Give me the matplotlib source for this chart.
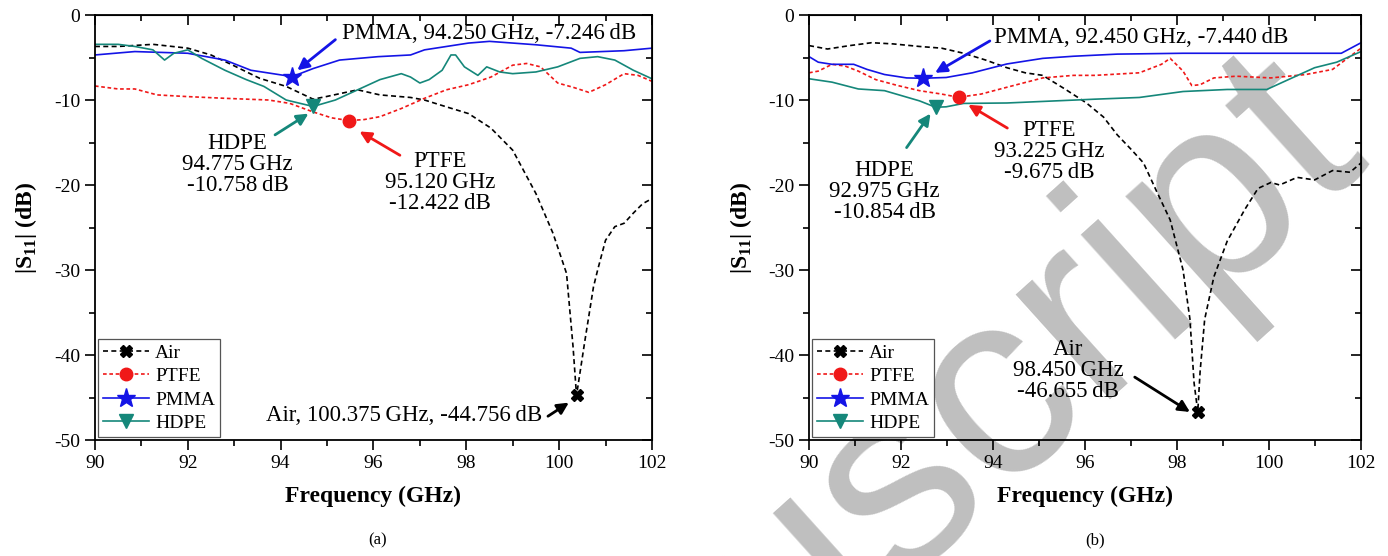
import matplotlib.pyplot as plt
from matplotlib.lines import Line2D
from matplotlib.ticker import MultipleLocator

plt.rcParams['font.family'] = ['Liberation Serif', 'DejaVu Serif']
plt.rcParams['mathtext.fontset'] = 'custom'
plt.rcParams['mathtext.rm'] = 'Liberation Serif'
plt.rcParams['mathtext.bf'] = 'Liberation Serif:bold'
plt.rcParams['axes.unicode_minus'] = False

# ---- panel (a) data ----
air_a_f = [90.0, 90.5, 91.25, 92.0, 92.5, 92.97, 93.55, 94.12, 94.7, 94.98, 95.66, 96.14, 96.8, 97.1,
           97.57, 98.05, 98.53, 99.0, 99.5, 99.87, 100.16, 100.3, 100.375, 100.55, 100.74, 100.83,
           101.0, 101.2, 101.4, 101.6, 101.8, 102.0]
air_a_db = [-3.7, -3.7, -3.45, -3.9, -4.7, -5.9, -7.45, -8.4, -9.9, -9.6, -8.8, -9.4, -9.7, -10.0,
            -10.8, -11.6, -13.3, -15.9, -21.0, -25.7, -30.4, -39.0, -44.76, -38.5, -32.0, -30.0,
            -26.5, -24.9, -24.5, -23.3, -22.2, -21.6]

ptfe_a_f = [90.0, 90.5, 90.86, 91.34, 92.0, 92.8, 93.74, 94.2, 94.7, 95.1, 95.47, 95.8, 96.14, 96.6,
            97.1, 97.57, 98.05, 98.53, 99.0, 99.3, 99.6, 99.97, 100.3, 100.64, 101.0, 101.4, 101.7, 102.0]
ptfe_a_db = [-8.35, -8.7, -8.7, -9.4, -9.6, -9.8, -10.0, -10.4, -11.4, -12.1, -12.42, -12.3, -11.96, -11.0,
             -9.8, -8.8, -8.2, -7.3, -5.9, -5.7, -6.1, -8.0, -8.5, -9.1, -8.2, -6.9, -7.1, -7.8]

pmma_a_f = [90.0, 90.86, 92.0, 92.8, 93.36, 94.25, 94.7, 95.27, 96.1, 96.8, 97.1, 98.05, 98.5, 99.5,
            100.26, 100.45, 101.4, 102.0]
pmma_a_db = [-4.7, -4.3, -4.5, -5.3, -6.5, -7.25, -6.3, -5.3, -4.9, -4.7, -4.1, -3.3, -3.1, -3.5,
             -3.9, -4.4, -4.2, -3.9]

hdpe_a_f = [90.0, 90.5, 90.86, 91.25, 91.5, 91.7, 92.0, 92.3, 92.8, 93.26, 93.64, 94.12, 94.7, 95.18,
            95.66, 96.14, 96.6, 96.8, 97.0, 97.2, 97.48, 97.67, 97.77, 97.96, 98.25, 98.44, 98.72, 99.0,
            99.5, 99.97, 100.45, 100.83, 101.2, 101.6, 102.0]
hdpe_a_db = [-3.45, -3.45, -3.7, -4.1, -5.3, -4.5, -4.1, -5.1, -6.5, -7.6, -8.4, -10.0, -10.76, -10.0,
             -8.8, -7.6, -6.9, -7.3, -8.0, -7.6, -6.5, -4.7, -4.7, -6.1, -7.1, -6.1, -6.7, -6.9,
             -6.7, -6.1, -5.1, -4.9, -5.3, -6.5, -7.5]

# minima markers (a): Air, PTFE, PMMA, HDPE
mins_a_f = [100.375, 95.47, 94.25, 94.7]
mins_a_db = [-44.756, -12.422, -7.246, -10.758]

# ---- panel (b) data ----
air_b_f = [90.0, 90.4, 90.88, 91.36, 91.83, 92.4, 92.88, 93.36, 93.84, 94.3, 94.7, 95.08, 95.56, 96.03,
           96.4, 96.7, 97.0, 97.27, 97.56, 97.85, 98.13, 98.28, 98.37, 98.45, 98.5, 98.6, 98.8, 99.09,
           99.47, 99.76, 100.04, 100.23, 100.61, 100.99, 101.38, 101.76, 102.0]
air_b_db = [-3.6, -4.0, -3.6, -3.26, -3.4, -3.7, -3.9, -4.5, -5.3, -6.2, -6.8, -7.1, -8.7, -10.35,
            -12.0, -14.1, -15.8, -17.4, -20.8, -24.1, -30.0, -35.8, -43.3, -46.66, -42.0, -35.8, -30.8, -26.6,
            -22.9, -20.4, -19.7, -20.0, -19.1, -19.4, -18.3, -18.5, -17.4]

ptfe_b_f = [90.0, 90.2, 90.5, 90.78, 91.07, 91.45, 91.93, 92.4, 92.88, 93.25, 93.74, 94.3, 95.08, 95.75,
            96.22, 97.18, 97.66, 97.85, 98.13, 98.32, 98.5, 98.8, 99.28, 100.04, 100.8, 101.38, 102.0]
ptfe_b_db = [-6.8, -6.6, -5.8, -6.0, -6.6, -7.6, -8.3, -8.9, -9.3, -9.68, -9.3, -8.5, -7.4, -7.1,
             -7.1, -6.8, -5.8, -5.1, -6.6, -8.3, -8.2, -7.4, -7.2, -7.4, -7.0, -6.4, -3.9]

pmma_b_f = [90.0, 90.2, 90.5, 90.97, 91.26, 91.64, 92.12, 92.47, 92.98, 93.55, 94.3, 95.08, 95.75, 96.7,
            98.13, 100.04, 101.57, 102.0]
pmma_b_db = [-4.9, -5.55, -5.8, -5.8, -6.4, -7.0, -7.4, -7.44, -7.35, -6.8, -5.76, -5.1, -4.85, -4.6,
             -4.5, -4.5, -4.5, -3.26]

hdpe_b_f = [90.0, 90.5, 91.07, 91.64, 92.02, 92.4, 92.75, 92.98, 93.36, 94.3, 96.22, 97.18, 98.13,
            99.09, 99.95, 100.42, 100.99, 101.47, 102.0]
hdpe_b_db = [-7.5, -7.9, -8.7, -8.9, -9.5, -10.1, -10.85, -10.8, -10.4, -10.35, -9.9, -9.7, -9.0,
             -8.76, -8.76, -7.6, -6.2, -5.55, -4.3]

mins_b_f = [98.45, 93.25, 92.47, 92.75]
mins_b_db = [-46.655, -9.675, -7.44, -10.854]

names = ['Air', 'PTFE', 'PMMA', 'HDPE']
colors = ['black', '#f01818', '#1414e6', '#15877a']
styles = [(0, (3, 2)), (0, (2.2, 1.6)), '-', '-']
markers = ['X', 'o', '*', 'v']
msizes = [8, 9, 14, 10]

ann_size = 16.5
ts = '\u2009'  # thin space between number and unit

fig = plt.figure(figsize=(13.88, 5.56), dpi=100)

# watermark behind everything
fig.text(0.985, 0.732, 'Manuscript', rotation=42, rotation_mode='anchor', ha='right', va='baseline',
         fontsize=192, color='#bfbfbf', family='Liberation Sans', zorder=-5)

ax_a = fig.add_axes([0.0684, 0.2086, 0.4013, 0.7644])
ax_b = fig.add_axes([0.5829, 0.2086, 0.3977, 0.7644])


def draw(ax, curves, mins_f, mins_db):
    for (f, db), c, ls, m, ms, f0, d0 in zip(curves, colors, styles, markers, msizes, mins_f, mins_db):
        ax.plot(f, db, color=c, linestyle=ls, lw=1.2)
        ax.plot([f0], [d0], linestyle='none', marker=m, color=c, markersize=ms, zorder=5)
    ax.set_facecolor('none')
    ax.set_xlim(90, 102)
    ax.set_ylim(-50, 0)
    ax.xaxis.set_major_locator(MultipleLocator(2))
    ax.xaxis.set_minor_locator(MultipleLocator(1))
    ax.yaxis.set_major_locator(MultipleLocator(10))
    ax.yaxis.set_minor_locator(MultipleLocator(5))
    ax.tick_params(which='both', direction='out', labelsize=14, width=1.2)
    ax.tick_params(which='major', length=7)
    ax.tick_params(which='minor', length=4)
    for s in ax.spines.values():
        s.set_linewidth(1.3)
    top = ax.secondary_xaxis('top')
    top.xaxis.set_major_locator(MultipleLocator(2))
    top.xaxis.set_minor_locator(MultipleLocator(1))
    top.tick_params(which='both', direction='in', labeltop=False, width=1.2)
    top.tick_params(which='major', length=7)
    top.tick_params(which='minor', length=4)
    right = ax.secondary_yaxis('right')
    right.yaxis.set_major_locator(MultipleLocator(10))
    right.yaxis.set_minor_locator(MultipleLocator(5))
    right.tick_params(which='both', direction='in', labelright=False, width=1.2)
    right.tick_params(which='major', length=7)
    right.tick_params(which='minor', length=4)
    ax.set_xlabel('Frequency (GHz)', fontsize=17, fontweight='bold')
    ax.xaxis.set_label_coords(0.5, -0.108)
    ax.set_ylabel(r'|S$_{\mathbf{11}}$| (dB)', fontsize=17, fontweight='bold')
    ax.yaxis.set_label_coords(-0.10, 0.5)
    handles = [Line2D([], [], color=c, linestyle=ls, lw=1.2, marker=m, markersize=ms)
               for c, ls, m, ms in zip(colors, styles, markers, msizes)]
    leg = ax.legend(handles, names, loc='lower left', bbox_to_anchor=(0.005, 0.007), borderaxespad=0,
                    fontsize=14, fancybox=False, edgecolor='#555555', framealpha=1,
                    handlelength=2.4, handletextpad=0.3, labelspacing=0.3, borderpad=0.25)
    leg.get_frame().set_linewidth(0.9)


def label(ax, text, xy, ha='center'):
    ax.text(xy[0], xy[1], text, fontsize=ann_size, ha=ha, va='center', linespacing=1.0)


def arrow(ax, head, tail, color):
    ax.annotate('', xy=head, xytext=tail,
                arrowprops=dict(arrowstyle='-|>', color=color, lw=2, mutation_scale=17,
                                shrinkA=0, shrinkB=0))


draw(ax_a, [(air_a_f, air_a_db), (ptfe_a_f, ptfe_a_db), (pmma_a_f, pmma_a_db), (hdpe_a_f, hdpe_a_db)],
     mins_a_f, mins_a_db)
label(ax_a, f'PMMA, 94.250{ts}GHz, -7.246{ts}dB', (95.32, -2.16), ha='left')
arrow(ax_a, (94.36, -6.5), (95.18, -2.9), colors[2])
label(ax_a, f'HDPE\n94.775{ts}GHz\n-10.758{ts}dB', (93.07, -17.6))
arrow(ax_a, (94.6, -11.6), (93.88, -14.1), colors[3])
label(ax_a, f'PTFE\n95.120{ts}GHz\n-12.422{ts}dB', (97.43, -19.7))
arrow(ax_a, (95.7, -13.7), (96.57, -16.5), colors[1])
label(ax_a, f'Air, 100.375{ts}GHz, -44.756{ts}dB', (99.64, -47.06), ha='right')
arrow(ax_a, (100.21, -45.6), (99.76, -47.2), 'black')

draw(ax_b, [(air_b_f, air_b_db), (ptfe_b_f, ptfe_b_db), (pmma_b_f, pmma_b_db), (hdpe_b_f, hdpe_b_db)],
     mins_b_f, mins_b_db)
label(ax_b, f'PMMA, 92.450{ts}GHz, -7.440{ts}dB', (94.03, -2.6), ha='left')
arrow(ax_b, (92.74, -6.8), (93.93, -3.05), colors[2])
label(ax_b, f'HDPE\n92.975{ts}GHz\n-10.854{ts}dB', (91.64, -20.8))
arrow(ax_b, (92.64, -11.6), (92.12, -15.6), colors[3])
label(ax_b, f'PTFE\n93.225{ts}GHz\n-9.675{ts}dB', (95.22, -16.0))
arrow(ax_b, (93.46, -10.56), (94.31, -13.3), colors[1])
label(ax_b, f'Air\n98.450{ts}GHz\n-46.655{ts}dB', (95.63, -41.8))
arrow(ax_b, (98.28, -46.7), (97.08, -42.6), 'black')

fig.text(378 / 1388, 1 - 540 / 556, '(a)', fontsize=12, ha='center', va='center')
fig.text(1095 / 1388, 1 - 540 / 556, '(b)', fontsize=12, ha='center', va='center')

fig.savefig('out.png', dpi=100)
